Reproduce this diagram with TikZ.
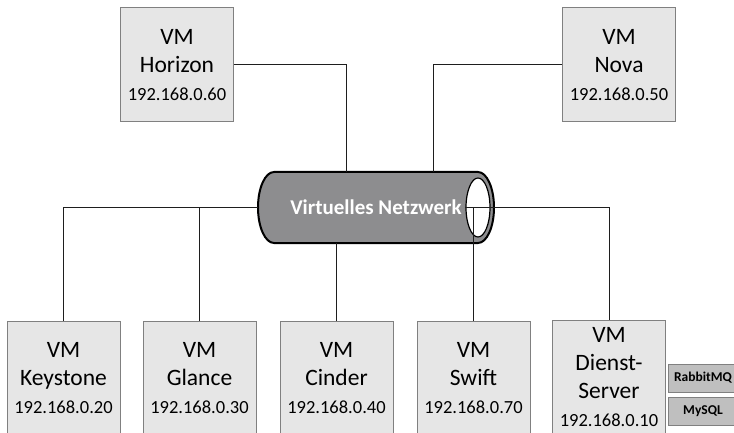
\documentclass[tikz,border=0pt]{standalone}
\usepackage{fontspec}
\setmainfont{Carlito}
\usetikzlibrary{positioning}
\usetikzlibrary{shapes.geometric}
\definecolor{boxgray}{RGB}{230,230,230}
\definecolor{edgegray}{RGB}{128,128,128}
\definecolor{tubegray}{RGB}{141,141,143}
\definecolor{svcgray}{RGB}{191,191,191}
\definecolor{wiregray}{RGB}{30,30,30}
\newcommand{\ipfont}{\fontsize{18.5}{28}\selectfont}

\begin{document}
\begin{tikzpicture}[x=1pt, y=-1pt,
    vm/.style={draw=edgegray, fill=boxgray, line width=1pt, minimum width=113pt,
               minimum height=114pt, inner sep=0pt, text width=113pt, align=center,
               font=\fontsize{23.5}{28}\selectfont},
    svc/.style={draw=edgegray, fill=svcgray, line width=1pt, minimum width=70pt,
                minimum height=28pt, inner sep=0pt, font=\fontsize{13.5}{16}\selectfont\bfseries},
    wire/.style={draw=wiregray, line width=1pt}]
    \useasboundingbox (0,0) rectangle (734,433);
    \clip (0,0) rectangle (734,433);

    % Virtual network tube
    \draw[fill=tubegray, line width=2pt] (274,172) -- (478,172)
        arc[start angle=-90, end angle=90, x radius=16, y radius=35.5] -- (274,243)
        arc[start angle=90, end angle=270, x radius=16, y radius=35.5] -- cycle;
    \node[minimum width=236pt, minimum height=71pt, inner sep=0pt, text=white,
          font=\fontsize{21}{25}\selectfont\bfseries] (net) at (376,207.5) {Virtuelles Netzwerk};
    \node[ellipse, draw=black, fill=white, line width=1.2pt, minimum width=24pt,
          minimum height=59pt, inner sep=0pt] (hole) at (478,207.5) {};

    % Upper VMs
    \node[vm] (horizon) at (177,65) {VM\\Horizon\\{\ipfont 192.168.0.60}};
    \node[vm] (nova) at (619,65) {VM\\Nova\\{\ipfont 192.168.0.50}};

    % Lower VMs
    \foreach \n/\x/\lbl/\ip in {keystone/63.5/Keystone/20, glance/199.5/Glance/30,
                                cinder/336.5/Cinder/40, swift/473.5/Swift/70} {
        \node[vm] (\n) at (\x,378) {VM\\\lbl\\{\ipfont 192.168.0.\ip}};
    }
    \node[vm] (dienst) at (609,377) {VM\\Dienst-\\Server\\{\ipfont 192.168.0.10}};

    % Services
    \node[svc] (rabbit) at (703,378) {RabbitMQ};
    \node[svc] (mysql) at (703,411) {MySQL};

    % Connections
    \coordinate (hjoin) at (346,172);
    \coordinate (njoin) at (433,172);
    \draw[wire] (horizon.east) -| (hjoin);
    \draw[wire] (nova.west) -| (njoin);
    \draw[wire] (net.west) -| (keystone.north);
    \draw[wire] (glance.north) -- (glance.north |- net.west);
    \draw[wire] (cinder.north) -- (cinder.north |- net.south);
    \draw[wire] (hole.west) -| (dienst.north);
    \draw[wire] (swift.north) -- (swift.north |- hole.west);
\end{tikzpicture}
\end{document}
